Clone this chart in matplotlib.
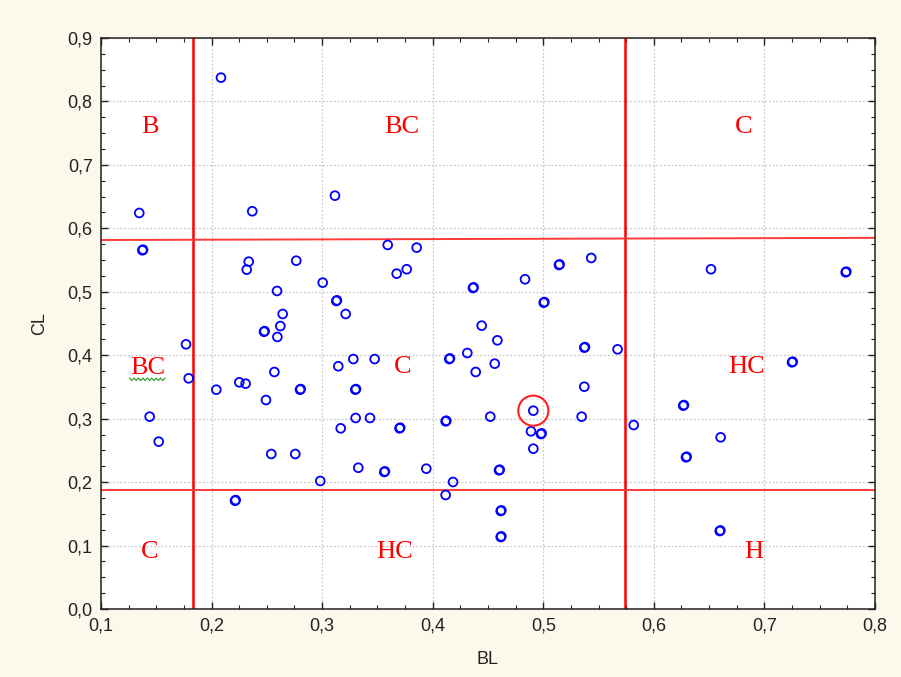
import numpy as np
import matplotlib.pyplot as plt
from matplotlib.ticker import MultipleLocator, FuncFormatter

# scatter data (BL, CL)
bl = [0.2085, 0.1346, 0.1374, 0.1380, 0.2368, 0.3116, 0.3593, 0.3855, 0.3674, 0.3765,
      0.2336, 0.2318, 0.2766, 0.2592, 0.3005, 0.3128, 0.3134, 0.3213, 0.2643, 0.2622,
      0.2474, 0.2480, 0.2595, 0.1769, 0.1793, 0.1440, 0.1522, 0.2043, 0.2251, 0.2308,
      0.2568, 0.2492, 0.2800, 0.2806, 0.3146, 0.3282, 0.3475, 0.3300, 0.3306, 0.3303,
      0.3433, 0.3168, 0.3700, 0.3706, 0.2540, 0.2757, 0.2983, 0.3327, 0.3562, 0.3568,
      0.2212, 0.2218, 0.4364, 0.4370, 0.4835, 0.5142, 0.5148, 0.5434, 0.5004, 0.5010,
      0.4443, 0.6517, 0.7735, 0.7741, 0.4585, 0.4313, 0.4150, 0.4156, 0.4561, 0.4389,
      0.5371, 0.5377, 0.5672, 0.5371, 0.4910, 0.4521, 0.5347, 0.4117, 0.4123, 0.4889,
      0.4979, 0.4985, 0.5818, 0.4910, 0.3942, 0.4184, 0.4600, 0.4606, 0.4117, 0.4615,
      0.4621, 0.4615, 0.4621, 0.7250, 0.7256, 0.6266, 0.6272, 0.6604, 0.6291, 0.6297,
      0.6596, 0.6602]
cl = [0.8375, 0.6242, 0.5654, 0.5664, 0.6269, 0.6515, 0.5738, 0.5696, 0.5286, 0.5355,
      0.5475, 0.5349, 0.5490, 0.5013, 0.5144, 0.4855, 0.4865, 0.4650, 0.4650, 0.4460,
      0.4370, 0.4380, 0.4288, 0.4172, 0.3636, 0.3032, 0.2638, 0.3457, 0.3573, 0.3552,
      0.3736, 0.3294, 0.3457, 0.3467, 0.3826, 0.3940, 0.3940, 0.3457, 0.3467, 0.3011,
      0.3011, 0.2848, 0.2848, 0.2858, 0.2443, 0.2443, 0.2018, 0.2227, 0.2160, 0.2170,
      0.1707, 0.1717, 0.5060, 0.5070, 0.5197, 0.5422, 0.5432, 0.5533, 0.4828, 0.4838,
      0.4466, 0.5355, 0.5307, 0.5317, 0.4235, 0.4035, 0.3940, 0.3950, 0.3867, 0.3736,
      0.4119, 0.4129, 0.4093, 0.3504, 0.3126, 0.3032, 0.3032, 0.2958, 0.2968, 0.2801,
      0.2758, 0.2768, 0.2900, 0.2527, 0.2212, 0.2002, 0.2186, 0.2196, 0.1797, 0.1545,
      0.1555, 0.1135, 0.1145, 0.3888, 0.3898, 0.3205, 0.3215, 0.2706, 0.2391, 0.2401,
      0.1229, 0.1239]

# highlighted point
hl_bl, hl_cl = 0.4910, 0.3126

# class boundaries
bl_cuts = [0.1832, 0.5739]
cl_upper = [0.5816, 0.5850]   # slightly tilted line, value at left / right edge
cl_lower = [0.1876, 0.1876]

# region labels
labels = ["B", "BC", "C", "BC", "C", "HC", "C", "HC", "H"]
label_x = [0.1443, 0.3716, 0.6815, 0.1419, 0.3725, 0.6840, 0.1443, 0.3659, 0.6906]
label_y = [0.7600, 0.7600, 0.7600, 0.3800, 0.3820, 0.3820, 0.0905, 0.0905, 0.0905]

xmin, xmax = 0.1, 0.8
ymin, ymax = 0.0, 0.9

bg = "#fdf8ec"
narrow = ["Liberation Sans Narrow", "Liberation Sans", "DejaVu Sans"]

fig = plt.figure(figsize=(9.01, 6.77), dpi=100, facecolor=bg)
ax = fig.add_axes([0.1121, 0.1004, 0.8590, 0.8435])
ax.set_facecolor("white")

ax.set_xlim(xmin, xmax)
ax.set_ylim(ymin, ymax)

ax.xaxis.set_major_locator(MultipleLocator(0.1))
ax.xaxis.set_minor_locator(MultipleLocator(0.025))
ax.yaxis.set_major_locator(MultipleLocator(0.1))
ax.yaxis.set_minor_locator(MultipleLocator(0.025))
comma = FuncFormatter(lambda v, p: f"{v:.1f}".replace(".", ","))
ax.xaxis.set_major_formatter(comma)
ax.yaxis.set_major_formatter(comma)

ax.tick_params(which="both", direction="in", top=True, right=True, color="#222222")
ax.tick_params(which="major", length=5, width=1, labelsize=13, pad=6)
ax.tick_params(which="minor", length=3, width=0.8)
for lab in ax.get_xticklabels() + ax.get_yticklabels():
    lab.set_family(narrow)
    lab.set_color("#222222")

ax.grid(True, which="major", color="#c8c8c8", linestyle=(0, (1.5, 1.5)), linewidth=0.9)
ax.set_axisbelow(True)
for s in ax.spines.values():
    s.set_color("#222222")
    s.set_linewidth(1.1)

ax.set_xlabel("BL", family=narrow, fontsize=13, color="#222222", labelpad=12)
ax.set_ylabel("CL", family=narrow, fontsize=13, color="#222222", labelpad=14)

# boundary lines
for xc in bl_cuts:
    ax.axvline(xc, color="#ff0000", linewidth=1.8, zorder=2)
ax.plot([xmin, xmax], cl_upper, color="#ff3a3a", linewidth=1.4, zorder=2)
ax.plot([xmin, xmax], cl_lower, color="#ff3a3a", linewidth=1.4, zorder=2)

ax.scatter(bl, cl, s=40, facecolors="none", edgecolors="#0000ff",
           linewidths=1.3, zorder=3)
ax.scatter([hl_bl], [hl_cl], s=470, facecolors="none", edgecolors="#ff2020",
           linewidths=1.5, zorder=4)

for t, x, y in zip(labels, label_x, label_y):
    ax.text(x, y, t, color="#ff0000", fontsize=19, family="Liberation Serif",
            ha="center", va="center", zorder=5)

# green spell-check squiggle under the left "BC"
sx = np.linspace(label_x[3] - 0.016, label_x[3] + 0.016, 17)
sy = label_y[3] - 0.018 + np.where(np.arange(17) % 2 == 0, 0.002, -0.002)
ax.plot(sx, sy, color="#3aa03a", linewidth=0.9, zorder=5)

fig.savefig("out.png", dpi=100, facecolor=bg)
